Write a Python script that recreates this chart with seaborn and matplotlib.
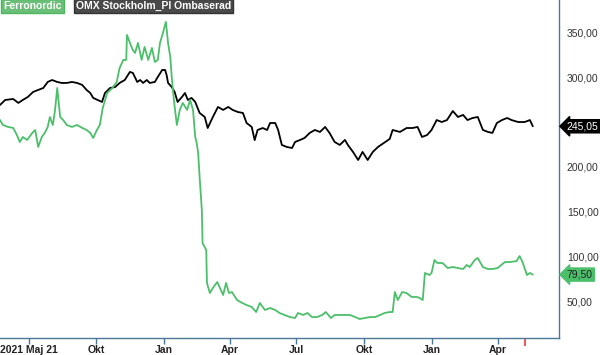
import matplotlib
matplotlib.use('Agg')
import numpy as np
import pandas as pd
import matplotlib.pyplot as plt
import seaborn as sns

# Data, day offsets from the first date
start = pd.Timestamp('2021-05-23')

omx_days = [0, 7, 18, 25, 31, 38, 45, 52, 59, 65, 71, 78, 84, 91, 98, 105, 112, 118, 123, 127,
            133, 139, 143, 150, 157, 163, 170, 177, 181, 187, 191, 195, 200, 204, 211, 215, 221,
            225, 227, 229, 234, 238, 242, 248, 252, 256, 261, 266, 272, 279, 283, 290, 297, 304,
            311, 317, 324, 331, 336, 343, 347, 351, 358, 364, 368, 375, 379, 384, 391, 398, 402,
            409, 415, 422, 429, 436, 443, 449, 456, 463, 470, 474, 481, 488, 494, 501, 508, 515,
            531, 535, 545, 554, 562, 569, 575, 582, 588, 595, 602, 609, 617, 624, 631, 637, 644,
            651, 658, 665, 671, 677, 684, 691, 697, 706, 715, 722, 726]
omx_vals = [268.8, 274.4, 275.5, 271.1, 274.4, 277.8, 283.3, 285.6, 287.8, 294.5, 296.7, 294.5,
            293.4, 293.4, 294.5, 293.4, 291.2, 285.6, 282.2, 276.7, 274.4, 272.2, 282.2, 287.8,
            288.9, 293.4, 296.7, 305.7, 304.6, 294.5, 296.7, 293.4, 296.7, 293.4, 294.5, 300.1,
            307.9, 307.9, 302.3, 293.4, 288.9, 283.3, 272.2, 277.8, 282.2, 274.4, 276.7, 272.2,
            259.9, 255.4, 243.1, 255.4, 266.6, 263.3, 266.6, 263.3, 261.0, 259.9, 248.7, 244.3,
            229.6, 240.9, 243.1, 240.9, 248.7, 248.7, 240.9, 224.2, 221.9, 220.8, 227.5, 229.8,
            232.0, 237.6, 240.9, 238.7, 244.3, 237.6, 227.5, 224.2, 229.8, 224.2, 216.4, 207.4,
            216.4, 207.4, 216.4, 221.9, 230.9, 240.9, 238.7, 243.1, 243.1, 244.3, 233.1, 235.3,
            240.9, 252.0, 249.8, 252.0, 262.1, 255.4, 257.7, 252.0, 254.3, 255.4, 240.9, 238.7,
            237.6, 248.7, 252.0, 254.3, 252.0, 249.8, 249.8, 252.0, 245.05]

fn_days = [0, 4, 11, 18, 23, 27, 31, 37, 44, 48, 52, 57, 61, 65, 68, 72, 75, 78, 82, 86, 91, 98,
           105, 112, 118, 123, 127, 132, 136, 140, 146, 153, 159, 163, 168, 172, 173, 177, 181,
           184, 188, 193, 197, 202, 207, 211, 215, 218, 222, 226, 229, 232, 234, 236, 238, 241,
           245, 249, 255, 259, 263, 266, 268, 270, 272, 275, 276, 281, 282, 286, 290, 296, 301,
           304, 308, 312, 316, 323, 330, 336, 343, 349, 354, 361, 368, 375, 381, 388, 395, 402,
           406, 413, 419, 425, 432, 439, 444, 451, 456, 463, 470, 477, 484, 490, 497, 504, 511,
           518, 524, 531, 535, 538, 542, 548, 554, 561, 568, 572, 576, 579, 585, 588, 592, 596,
           603, 610, 617, 624, 631, 636, 640, 647, 651, 658, 665, 671, 678, 688, 695, 704, 708,
           712, 718, 722, 726]
fn_vals = [252.1, 246.5, 244.3, 243.2, 235.3, 227.5, 233.1, 229.8, 237.6, 240.9, 221.9, 233.1,
           237.6, 244.3, 255.4, 246.5, 263.3, 287.8, 255.4, 252.1, 246.5, 244.3, 246.5, 243.2,
           240.9, 237.6, 232.0, 240.9, 246.5, 265.5, 282.2, 287.8, 294.5, 310.1, 319.1, 319.1,
           347.0, 338.1, 330.2, 326.9, 338.1, 319.1, 333.6, 319.1, 332.5, 316.8, 319.1, 338.1,
           349.2, 361.6, 338.1, 322.4, 300.1, 282.2, 266.6, 246.5, 263.3, 271.1, 263.3, 274.4,
           263.3, 233.1, 226.4, 215.3, 188.4, 151.6, 114.7, 106.9, 70.1, 58.9, 64.5, 71.2, 62.3,
           56.7, 70.1, 58.9, 60.0, 51.1, 47.8, 45.5, 43.3, 37.7, 47.8, 40.0, 42.2, 40.0, 36.6,
           34.4, 32.1, 31.0, 36.6, 34.4, 36.6, 32.1, 32.1, 34.4, 37.7, 31.0, 34.4, 34.4, 34.4,
           34.4, 32.1, 29.9, 31.0, 32.1, 32.1, 34.4, 36.6, 37.7, 37.7, 60.0, 51.1, 60.0, 58.9,
           54.5, 54.5, 53.3, 51.1, 81.3, 79.0, 81.3, 95.8, 92.4, 92.4, 86.8, 87.9, 86.8, 85.7,
           90.2, 87.9, 95.8, 98.0, 87.9, 85.7, 85.7, 86.8, 93.5, 93.5, 94.6, 100.2, 93.5, 79.0,
           81.3, 79.5]

tick_dates = ['2021-07-01', '2021-10-01', '2022-01-01', '2022-04-01', '2022-07-01',
              '2022-10-01', '2023-01-01', '2023-04-01']
tick_labels = ['2021 Maj 21', 'Okt', 'Jan', 'Apr', 'Jul', 'Okt', 'Jan', 'Apr']
y_ticks = [50, 100, 150, 200, 300, 350]
marker_day = 716

green = '#4cbf6b'
spine_col = '#4a7896'

sns.set_style('white')
plt.rcParams['font.family'] = ['Liberation Sans', 'DejaVu Sans']

omx = pd.DataFrame({'date': start + pd.to_timedelta(omx_days, unit='D'), 'value': omx_vals})
fn = pd.DataFrame({'date': start + pd.to_timedelta(fn_days, unit='D'), 'value': fn_vals})

fig = plt.figure(figsize=(6, 3.55), dpi=100)
ax = fig.add_axes([0, 17 / 355, 558.5 / 600, 338 / 355])

sns.lineplot(data=omx, x='date', y='value', ax=ax, color='black', linewidth=1.3, estimator=None)
sns.lineplot(data=fn, x='date', y='value', ax=ax, color=green, linewidth=1.3, estimator=None)

ax.set_xlim(start, start + pd.Timedelta(days=761))
ax.set_ylim(8.7, 386)
ax.set_xlabel('')
ax.set_ylabel('')

for s in ['top', 'left']:
    ax.spines[s].set_visible(False)
for s in ['right', 'bottom']:
    ax.spines[s].set_color(spine_col)
    ax.spines[s].set_linewidth(1)

ax.set_xticks(pd.to_datetime(tick_dates))
ax.set_xticklabels(tick_labels, fontweight='bold', fontsize=7.5, color='#222222')
ax.set_xticks([start + pd.Timedelta(days=marker_day)], minor=True)
ax.tick_params(axis='x', which='major', direction='out', length=4, width=1, color=spine_col, pad=1, bottom=True)
ax.tick_params(axis='x', which='minor', direction='out', length=6, width=1.3, color='#f04848', bottom=True)

ax.yaxis.tick_right()
ax.set_yticks(y_ticks)
ax.set_yticklabels([f'{v:.2f}'.replace('.', ',') for v in y_ticks], fontsize=7.5, color='#333333')
ax.tick_params(axis='y', length=0, pad=6)

# last-value tags on the right axis
ax.annotate('245,05', xy=(1, omx_vals[-1]), xycoords=('axes fraction', 'data'),
            xytext=(6, 0), textcoords='offset points', ha='left', va='center',
            fontsize=7.5, color='white', annotation_clip=False,
            bbox=dict(boxstyle='larrow,pad=0.15', fc='black', ec='black'))
ax.annotate('79,50', xy=(1, fn_vals[-1]), xycoords=('axes fraction', 'data'),
            xytext=(6, 0), textcoords='offset points', ha='left', va='center',
            fontsize=7.5, color='#222222', annotation_clip=False,
            bbox=dict(boxstyle='larrow,pad=0.15', fc=green, ec=green))

# legend tags at the top
fig.text(3 / 600, 1 - 6 / 355, 'Ferronordic', fontsize=7.5, fontweight='bold', color='white',
         ha='left', va='center', bbox=dict(boxstyle='square,pad=0.2', fc='#6cbf78', ec='#4cb860'))
fig.text(76 / 600, 1 - 6 / 355, 'OMX Stockholm_PI Ombaserad', fontsize=7.5, fontweight='bold',
         color='white', ha='left', va='center',
         bbox=dict(boxstyle='square,pad=0.2', fc='#4a4a4a', ec='#333333'))

fig.savefig('out.png', dpi=100)
